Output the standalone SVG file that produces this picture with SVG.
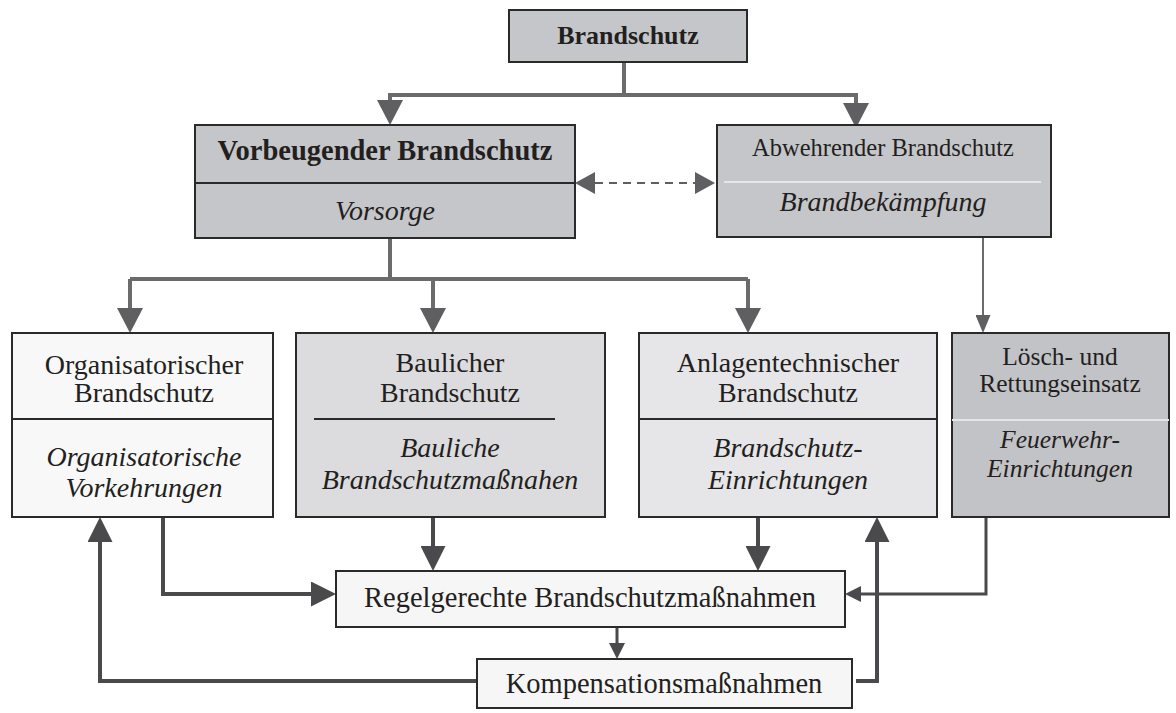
<svg xmlns="http://www.w3.org/2000/svg" width="1176" height="713" viewBox="0 0 1176 713">
<defs>
<style>
.box{stroke:#2a2a2a;stroke-width:2}
.t{font-family:"Liberation Serif","Times New Roman",serif;fill:#231f20;text-anchor:middle}
.b{font-weight:bold}
.i{font-style:italic}
.c1{fill:none;stroke:#6b6b6b;stroke-width:4}
.c2{fill:none;stroke:#4a4a4c;stroke-width:4}
.c3{fill:none;stroke:#6b6b6b;stroke-width:2}
.c4{fill:none;stroke:#4a4a4c;stroke-width:3}
</style>
<marker id="aTop" markerUnits="userSpaceOnUse" viewBox="0 0 25 26" refX="0" refY="13" markerWidth="25" markerHeight="26" orient="auto"><path d="M0,0 L25,13 L0,26 Z" fill="#5f5f61"/></marker>
<marker id="aBig" markerUnits="userSpaceOnUse" viewBox="0 0 25 25" refX="0" refY="12.5" markerWidth="25" markerHeight="25" orient="auto"><path d="M0,0 L25,12.5 L0,25 Z" fill="#4a4a4c"/></marker>
<marker id="aDash" markerUnits="userSpaceOnUse" viewBox="0 0 20 22" refX="0" refY="11" markerWidth="20" markerHeight="22" orient="auto-start-reverse"><path d="M0,0 L20,11 L0,22 Z" fill="#5f5f61"/></marker>
<marker id="aSm" markerUnits="userSpaceOnUse" viewBox="0 0 16 16" refX="0" refY="8" markerWidth="16" markerHeight="16" orient="auto"><path d="M0,0 L16,8 L0,16 Z" fill="#4a4a4c"/></marker>
<marker id="aThin" markerUnits="userSpaceOnUse" viewBox="0 0 18 15" refX="0" refY="7.5" markerWidth="18" markerHeight="15" orient="auto"><path d="M0,0 L18,7.5 L0,15 Z" fill="#5f5f61"/></marker>
</defs>
<rect width="1176" height="713" fill="#ffffff"/>

<g id="connectors">
<path class="c1" d="M624,62 V95"/>
<path class="c1" d="M390,100 V95 H856 V103" marker-end="url(#aTop)"/>
<path class="c1" d="M390,95 V100" marker-end="url(#aTop)"/>
<path class="c3" d="M595,183 H695" stroke-dasharray="8,6" marker-start="url(#aDash)" marker-end="url(#aDash)" style="stroke:#5f5f61"/>
<path class="c1" d="M390,238 V279"/>
<path class="c1" d="M130,279 H748"/>
<path class="c1" d="M130,279 V308" marker-end="url(#aTop)"/>
<path class="c1" d="M433,279 V308" marker-end="url(#aTop)"/>
<path class="c1" d="M748,279 V308" marker-end="url(#aTop)"/>
<path class="c3" d="M983,237 V315" marker-end="url(#aThin)"/>
<path class="c2" d="M163,517 V594 H311" marker-end="url(#aBig)"/>
<path class="c2" d="M433,517 V546" marker-end="url(#aBig)"/>
<path class="c2" d="M758,517 V546" marker-end="url(#aBig)"/>
<path class="c4" d="M986,517 V594 H861" marker-end="url(#aSm)"/>
<path class="c4" d="M617,627 V643" marker-end="url(#aSm)"/>
<path class="c2" d="M477,681 H100 V542" marker-end="url(#aBig)"/>
<path class="c2" d="M856,681 H877 V542" marker-end="url(#aBig)"/>
</g>

<g id="brandschutz">
<rect class="box" x="509" y="10" width="238" height="52" fill="#c5c6c9"/>
<text class="t b" x="628" y="44" font-size="26">Brandschutz</text>
</g>

<g id="vorbeugender">
<rect class="box" x="195" y="125" width="380" height="113" fill="#c5c6c9"/>
<line x1="195" y1="183" x2="575" y2="183" stroke="#2a2a2a" stroke-width="2"/>
<text class="t b" x="385" y="160" font-size="28.5">Vorbeugender Brandschutz</text>
<text class="t i" x="385" y="220" font-size="28">Vorsorge</text>
</g>

<g id="abwehrender">
<rect class="box" x="717" y="125" width="334" height="112" fill="#c5c6c9"/>
<line x1="724" y1="182" x2="1041" y2="182" stroke="#e6e6e8" stroke-width="2"/>
<text class="t" x="883" y="156" font-size="24.5">Abwehrender Brandschutz</text>
<text class="t i" x="883" y="211" font-size="28">Brandbekämpfung</text>
</g>

<g id="organisatorisch">
<rect class="box" x="12" y="333" width="261" height="184" fill="#f8f8f8"/>
<line x1="12" y1="419" x2="273" y2="419" stroke="#2a2a2a" stroke-width="2"/>
<text class="t" x="144" y="374" font-size="28">Organisatorischer</text>
<text class="t" x="144" y="402" font-size="28">Brandschutz</text>
<text class="t i" x="144" y="466" font-size="28">Organisatorische</text>
<text class="t i" x="144" y="497" font-size="28">Vorkehrungen</text>
</g>

<g id="baulich">
<rect class="box" x="296" y="333" width="309" height="184" fill="#dcdcde"/>
<line x1="314" y1="419" x2="555" y2="419" stroke="#2a2a2a" stroke-width="2"/>
<text class="t" x="450" y="372" font-size="28">Baulicher</text>
<text class="t" x="450" y="402" font-size="28">Brandschutz</text>
<text class="t i" x="450" y="457" font-size="28">Bauliche</text>
<text class="t i" x="450" y="489" font-size="28">Brandschutzmaßnahen</text>
</g>

<g id="anlagentechnisch">
<rect class="box" x="639" y="333" width="298" height="184" fill="#e6e6e8"/>
<line x1="639" y1="419" x2="937" y2="419" stroke="#2a2a2a" stroke-width="2"/>
<text class="t" x="788" y="372" font-size="28">Anlagentechnischer</text>
<text class="t" x="788" y="402" font-size="28">Brandschutz</text>
<text class="t i" x="788" y="457" font-size="28">Brandschutz-</text>
<text class="t i" x="788" y="489" font-size="28">Einrichtungen</text>
</g>

<g id="loesch">
<rect class="box" x="952" y="333" width="217" height="184" fill="#c2c3c6"/>
<line x1="952" y1="420" x2="1169" y2="420" stroke="#e6e6e8" stroke-width="2"/>
<text class="t" x="1060" y="365" font-size="25.5">Lösch- und</text>
<text class="t" x="1060" y="392" font-size="25.5">Rettungseinsatz</text>
<text class="t i" x="1060" y="448" font-size="25.5">Feuerwehr-</text>
<text class="t i" x="1060" y="477" font-size="25.5">Einrichtungen</text>
</g>

<g id="regelgerecht">
<rect class="box" x="336" y="571" width="509" height="56" fill="#f6f6f6"/>
<text class="t" x="590" y="607" font-size="28.5">Regelgerechte Brandschutzmaßnahmen</text>
</g>

<g id="kompensation">
<rect class="box" x="477" y="659" width="375" height="49" fill="#f6f6f6"/>
<text class="t" x="664" y="693" font-size="28.5">Kompensationsmaßnahmen</text>
</g>
</svg>
